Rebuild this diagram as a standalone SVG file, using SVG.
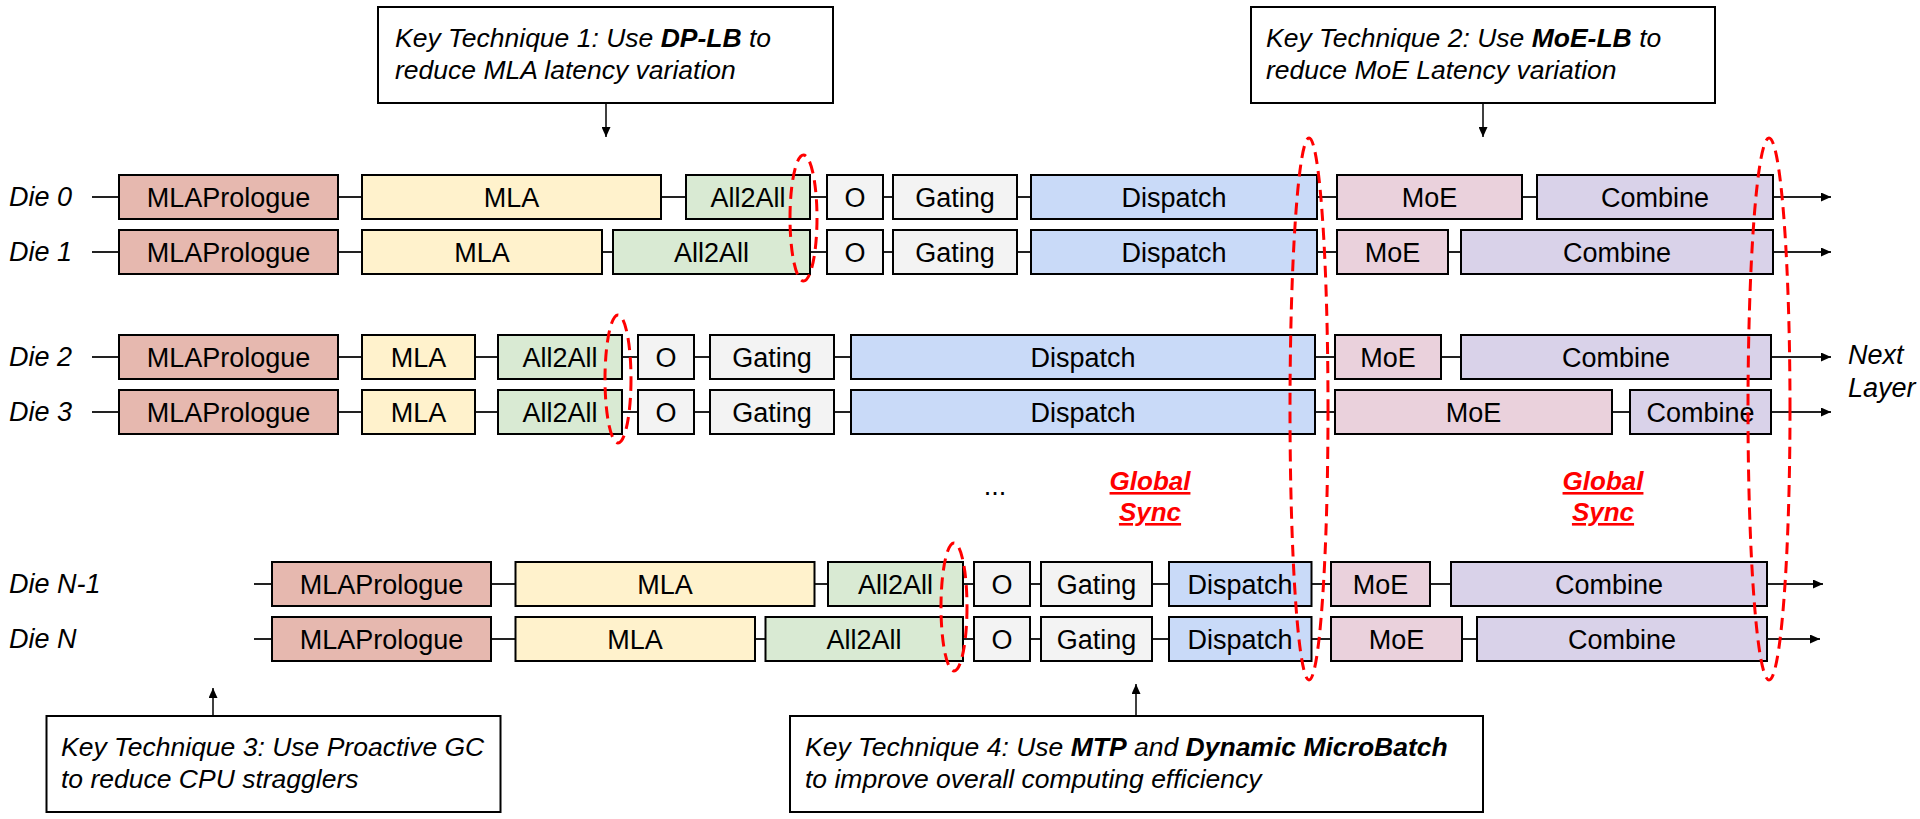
<svg xmlns="http://www.w3.org/2000/svg" width="1920" height="819" viewBox="0 0 1920 819">
<style>
.b{stroke:#000;stroke-width:2}
.mp{fill:#E6B8AF}.ml{fill:#FFF2CC}.aa{fill:#D9EAD3}.gt{fill:#F3F3F3}.dp{fill:#C9DAF8}.me{fill:#EAD1DC}.cb{fill:#D9D2E9}
.t{font-family:"Liberation Sans",Arial,sans-serif;font-size:27px;text-anchor:middle;fill:#000}
.it{font-family:"Liberation Sans",Arial,sans-serif;font-size:26.5px;font-style:italic;fill:#000}
.dl{font-family:"Liberation Sans",Arial,sans-serif;font-size:27px;font-style:italic;fill:#000}
.bd{font-weight:bold}
.gs{font-family:"Liberation Sans",Arial,sans-serif;font-size:26px;font-style:italic;font-weight:bold;fill:#FF0000;text-anchor:middle;text-decoration:underline}
.kb{fill:#fff;stroke:#000;stroke-width:2}
.ln{stroke:#222;stroke-width:2;fill:none}
.ca{stroke:#000;stroke-width:1.5;fill:none}
.el{fill:none;stroke:#FF0000;stroke-width:3;stroke-dasharray:12 7}
</style>
<defs>
<marker id="ah" markerUnits="userSpaceOnUse" markerWidth="11" markerHeight="9" refX="10" refY="4.5" orient="auto">
<path d="M0,0 L10,4.5 L0,9 z" fill="#000"/>
</marker>
</defs>
<rect width="1920" height="819" fill="#fff"/>

<g id="connectors">
<line class="ln" x1="92" y1="197" x2="1831" y2="197" marker-end="url(#ah)"/>
<line class="ln" x1="92" y1="252" x2="1831" y2="252" marker-end="url(#ah)"/>
<line class="ln" x1="92" y1="357" x2="1831" y2="357" marker-end="url(#ah)"/>
<line class="ln" x1="92" y1="412" x2="1831" y2="412" marker-end="url(#ah)"/>
<line class="ln" x1="254" y1="584" x2="1823" y2="584" marker-end="url(#ah)"/>
<line class="ln" x1="254" y1="639" x2="1820" y2="639" marker-end="url(#ah)"/>
<line class="ca" x1="606" y1="103" x2="606" y2="137" marker-end="url(#ah)"/>
<line class="ca" x1="1483" y1="103" x2="1483" y2="137" marker-end="url(#ah)"/>
<line class="ca" x1="213" y1="716" x2="213" y2="688" marker-end="url(#ah)"/>
<line class="ca" x1="1136" y1="716" x2="1136" y2="684" marker-end="url(#ah)"/>
</g>

<g id="labels">
<text class="dl" x="9" y="206">Die 0</text>
<text class="dl" x="9" y="261">Die 1</text>
<text class="dl" x="9" y="366">Die 2</text>
<text class="dl" x="9" y="421">Die 3</text>
<text class="dl" x="9" y="593">Die N-1</text>
<text class="dl" x="9" y="648">Die N</text>
<text class="dl" x="1848" y="364">Next</text>
<text class="dl" x="1848" y="397">Layer</text>
<text class="t" x="995" y="495">...</text>
</g>

<!-- Die 0 -->
<g id="d0-mlap"><rect class="b mp" x="119" y="175" width="219" height="44"/><text class="t" x="228.5" y="206.5">MLAPrologue</text></g>
<g id="d0-mla"><rect class="b ml" x="362" y="175" width="299" height="44"/><text class="t" x="511.5" y="206.5">MLA</text></g>
<g id="d0-a2a"><rect class="b aa" x="686" y="175" width="124" height="44"/><text class="t" x="748" y="206.5">All2All</text></g>
<g id="d0-o"><rect class="b gt" x="827" y="175" width="56" height="44"/><text class="t" x="855" y="206.5">O</text></g>
<g id="d0-gate"><rect class="b gt" x="893" y="175" width="124" height="44"/><text class="t" x="955" y="206.5">Gating</text></g>
<g id="d0-disp"><rect class="b dp" x="1031" y="175" width="286" height="44"/><text class="t" x="1174" y="206.5">Dispatch</text></g>
<g id="d0-moe"><rect class="b me" x="1337" y="175" width="185" height="44"/><text class="t" x="1429.5" y="206.5">MoE</text></g>
<g id="d0-comb"><rect class="b cb" x="1537" y="175" width="236" height="44"/><text class="t" x="1655" y="206.5">Combine</text></g>

<!-- Die 1 -->
<g id="d1-mlap"><rect class="b mp" x="119" y="230" width="219" height="44"/><text class="t" x="228.5" y="261.5">MLAPrologue</text></g>
<g id="d1-mla"><rect class="b ml" x="362" y="230" width="240" height="44"/><text class="t" x="482" y="261.5">MLA</text></g>
<g id="d1-a2a"><rect class="b aa" x="613" y="230" width="197" height="44"/><text class="t" x="711.5" y="261.5">All2All</text></g>
<g id="d1-o"><rect class="b gt" x="827" y="230" width="56" height="44"/><text class="t" x="855" y="261.5">O</text></g>
<g id="d1-gate"><rect class="b gt" x="893" y="230" width="124" height="44"/><text class="t" x="955" y="261.5">Gating</text></g>
<g id="d1-disp"><rect class="b dp" x="1031" y="230" width="286" height="44"/><text class="t" x="1174" y="261.5">Dispatch</text></g>
<g id="d1-moe"><rect class="b me" x="1337" y="230" width="111" height="44"/><text class="t" x="1392.5" y="261.5">MoE</text></g>
<g id="d1-comb"><rect class="b cb" x="1461" y="230" width="312" height="44"/><text class="t" x="1617" y="261.5">Combine</text></g>

<!-- Die 2 -->
<g id="d2-mlap"><rect class="b mp" x="119" y="335" width="219" height="44"/><text class="t" x="228.5" y="366.5">MLAPrologue</text></g>
<g id="d2-mla"><rect class="b ml" x="362" y="335" width="113" height="44"/><text class="t" x="418.5" y="366.5">MLA</text></g>
<g id="d2-a2a"><rect class="b aa" x="498" y="335" width="124" height="44"/><text class="t" x="560" y="366.5">All2All</text></g>
<g id="d2-o"><rect class="b gt" x="638" y="335" width="56" height="44"/><text class="t" x="666" y="366.5">O</text></g>
<g id="d2-gate"><rect class="b gt" x="710" y="335" width="124" height="44"/><text class="t" x="772" y="366.5">Gating</text></g>
<g id="d2-disp"><rect class="b dp" x="851" y="335" width="464" height="44"/><text class="t" x="1083" y="366.5">Dispatch</text></g>
<g id="d2-moe"><rect class="b me" x="1335" y="335" width="106" height="44"/><text class="t" x="1388" y="366.5">MoE</text></g>
<g id="d2-comb"><rect class="b cb" x="1461" y="335" width="310" height="44"/><text class="t" x="1616" y="366.5">Combine</text></g>

<!-- Die 3 -->
<g id="d3-mlap"><rect class="b mp" x="119" y="390" width="219" height="44"/><text class="t" x="228.5" y="421.5">MLAPrologue</text></g>
<g id="d3-mla"><rect class="b ml" x="362" y="390" width="113" height="44"/><text class="t" x="418.5" y="421.5">MLA</text></g>
<g id="d3-a2a"><rect class="b aa" x="498" y="390" width="124" height="44"/><text class="t" x="560" y="421.5">All2All</text></g>
<g id="d3-o"><rect class="b gt" x="638" y="390" width="56" height="44"/><text class="t" x="666" y="421.5">O</text></g>
<g id="d3-gate"><rect class="b gt" x="710" y="390" width="124" height="44"/><text class="t" x="772" y="421.5">Gating</text></g>
<g id="d3-disp"><rect class="b dp" x="851" y="390" width="464" height="44"/><text class="t" x="1083" y="421.5">Dispatch</text></g>
<g id="d3-moe"><rect class="b me" x="1335" y="390" width="277" height="44"/><text class="t" x="1473.5" y="421.5">MoE</text></g>
<g id="d3-comb"><rect class="b cb" x="1630" y="390" width="141" height="44"/><text class="t" x="1700.5" y="421.5">Combine</text></g>

<!-- Die N-1 -->
<g id="dn1-mlap"><rect class="b mp" x="272" y="562" width="219" height="44"/><text class="t" x="381.5" y="593.5">MLAPrologue</text></g>
<g id="dn1-mla"><rect class="b ml" x="515.5" y="562" width="299" height="44"/><text class="t" x="665" y="593.5">MLA</text></g>
<g id="dn1-a2a"><rect class="b aa" x="828" y="562" width="135" height="44"/><text class="t" x="895.5" y="593.5">All2All</text></g>
<g id="dn1-o"><rect class="b gt" x="974" y="562" width="56" height="44"/><text class="t" x="1002" y="593.5">O</text></g>
<g id="dn1-gate"><rect class="b gt" x="1041" y="562" width="111" height="44"/><text class="t" x="1096.5" y="593.5">Gating</text></g>
<g id="dn1-disp"><rect class="b dp" x="1169" y="562" width="142.5" height="44"/><text class="t" x="1240" y="593.5">Dispatch</text></g>
<g id="dn1-moe"><rect class="b me" x="1331" y="562" width="99" height="44"/><text class="t" x="1380.5" y="593.5">MoE</text></g>
<g id="dn1-comb"><rect class="b cb" x="1451" y="562" width="316" height="44"/><text class="t" x="1609" y="593.5">Combine</text></g>

<!-- Die N -->
<g id="dn-mlap"><rect class="b mp" x="272" y="617" width="219" height="44"/><text class="t" x="381.5" y="648.5">MLAPrologue</text></g>
<g id="dn-mla"><rect class="b ml" x="515.5" y="617" width="239.5" height="44"/><text class="t" x="635" y="648.5">MLA</text></g>
<g id="dn-a2a"><rect class="b aa" x="765.5" y="617" width="197.5" height="44"/><text class="t" x="864" y="648.5">All2All</text></g>
<g id="dn-o"><rect class="b gt" x="974" y="617" width="56" height="44"/><text class="t" x="1002" y="648.5">O</text></g>
<g id="dn-gate"><rect class="b gt" x="1041" y="617" width="111" height="44"/><text class="t" x="1096.5" y="648.5">Gating</text></g>
<g id="dn-disp"><rect class="b dp" x="1169" y="617" width="142.5" height="44"/><text class="t" x="1240" y="648.5">Dispatch</text></g>
<g id="dn-moe"><rect class="b me" x="1331" y="617" width="131" height="44"/><text class="t" x="1396.5" y="648.5">MoE</text></g>
<g id="dn-comb"><rect class="b cb" x="1477" y="617" width="290" height="44"/><text class="t" x="1622" y="648.5">Combine</text></g>

<!-- Key technique boxes -->
<g id="kt1"><rect class="kb" x="378" y="7" width="455" height="96"/>
<text class="it" x="395" y="47">Key Technique 1: Use <tspan class="bd">DP-LB</tspan> to</text>
<text class="it" x="395" y="79">reduce MLA latency variation</text></g>
<g id="kt2"><rect class="kb" x="1251" y="7" width="464" height="96"/>
<text class="it" x="1266" y="47">Key Technique 2: Use <tspan class="bd">MoE-LB</tspan> to</text>
<text class="it" x="1266" y="79">reduce MoE Latency variation</text></g>
<g id="kt3"><rect class="kb" x="46.5" y="716" width="454" height="96"/>
<text class="it" x="61" y="756">Key Technique 3: Use Proactive GC</text>
<text class="it" x="61" y="788">to reduce CPU stragglers</text></g>
<g id="kt4"><rect class="kb" x="790" y="716" width="693" height="96"/>
<text class="it" x="805" y="756">Key Technique 4: Use <tspan class="bd">MTP</tspan> and <tspan class="bd">Dynamic MicroBatch</tspan></text>
<text class="it" x="805" y="788">to improve overall computing efficiency</text></g>

<!-- Global sync markers -->
<g id="sync">
<ellipse class="el" cx="803.5" cy="218" rx="13.5" ry="63"/>
<ellipse class="el" cx="618" cy="379" rx="13" ry="64"/>
<ellipse class="el" cx="954" cy="607" rx="13" ry="64"/>
<ellipse class="el" cx="1309" cy="409" rx="19" ry="271"/>
<ellipse class="el" cx="1769" cy="409" rx="21" ry="271"/>
<text class="gs" x="1150" y="490">Global</text>
<text class="gs" x="1150" y="521">Sync</text>
<text class="gs" x="1603" y="490">Global</text>
<text class="gs" x="1603" y="521">Sync</text>
</g>
</svg>
